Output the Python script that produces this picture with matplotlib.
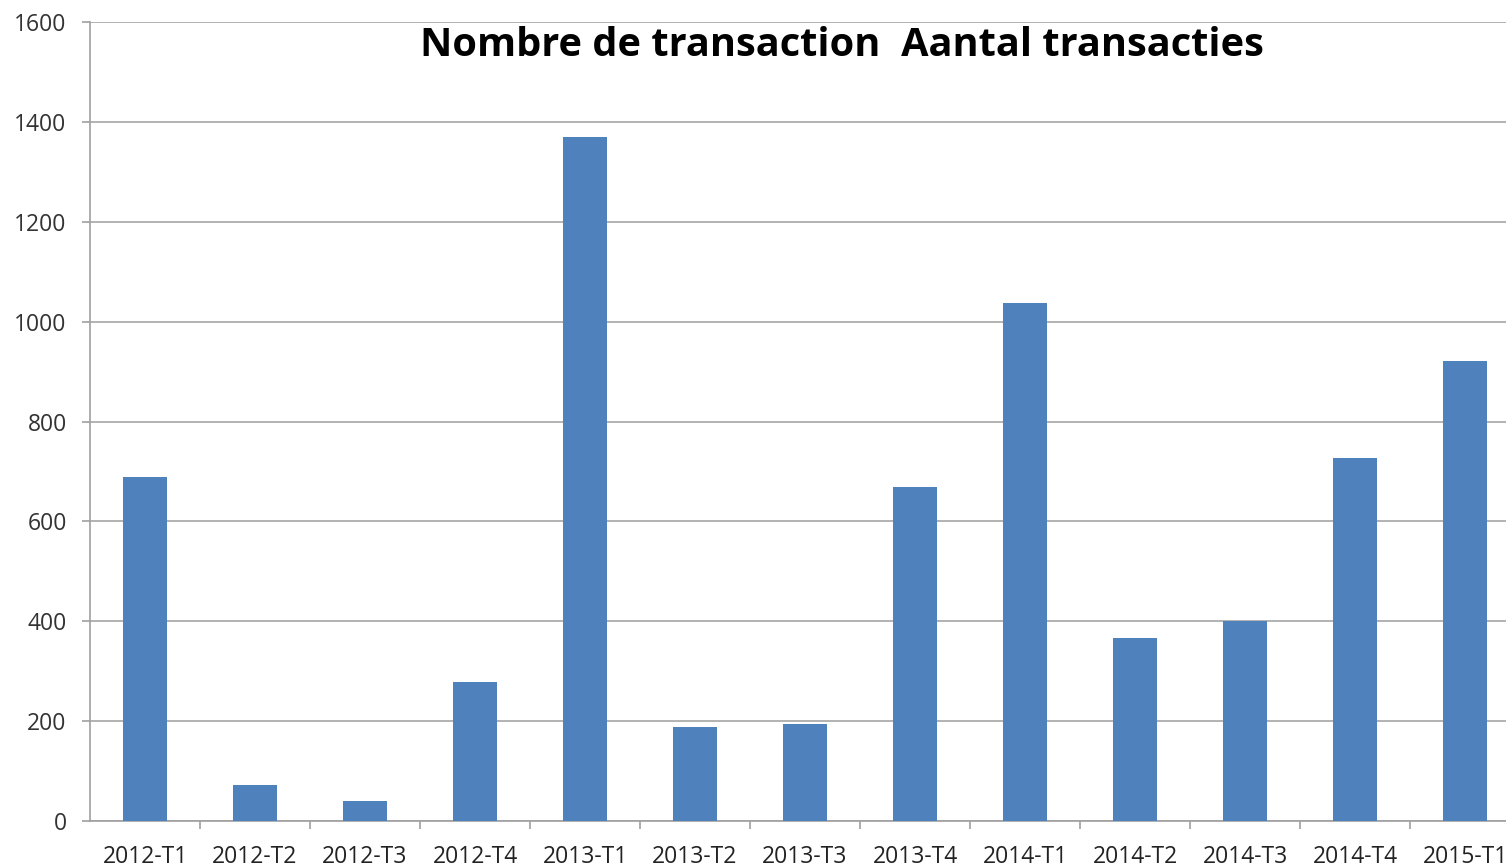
import matplotlib.pyplot as plt
import numpy as np

# quarters and number of transactions
quarters = ["2012-T1", "2012-T2", "2012-T3", "2012-T4",
            "2013-T1", "2013-T2", "2013-T3", "2013-T4",
            "2014-T1", "2014-T2", "2014-T3", "2014-T4",
            "2015-T1"]
transactions = [689, 72, 40, 278, 1370, 188, 194, 668, 1037, 366, 400, 727, 921]
yticks = [0, 200, 400, 600, 800, 1000, 1200, 1400, 1600]

plt.rcParams['font.family'] = ['Open Sans', 'DejaVu Sans']

W, H = 1506, 867
fig = plt.figure(figsize=(W / 100, H / 100), dpi=100)
# axes runs a bit past the right edge, as in the cropped reference
ax = fig.add_axes([90 / W, (H - 821) / H, (1520 - 90) / W, 799 / H])

x = np.arange(len(quarters))
ax.bar(x, transactions, width=0.4, color="#4F81BD", zorder=3)

ax.set_xlim(-0.5, len(quarters) - 0.5)
ax.set_ylim(0, 1600)
ax.set_yticks(yticks)
ax.set_yticklabels([str(v) for v in yticks], fontsize=16.5, color="#333333")
ax.set_xticks(x)
ax.set_xticklabels(quarters, fontsize=16.5, color="#222222")
ax.set_xticks(np.arange(len(quarters)) + 0.5, minor=True)

ax.grid(axis="y", color="#a6a6a6", linewidth=1.2, zorder=0)
for s in ["top", "right"]:
    ax.spines[s].set_visible(False)
for s in ["left", "bottom"]:
    ax.spines[s].set_color("#a0a0a0")
    ax.spines[s].set_linewidth(1.2)

ax.tick_params(axis="y", length=5.8, width=1.2, color="#a0a0a0", pad=11)
ax.tick_params(axis="x", which="major", length=0, pad=17.5)
ax.tick_params(axis="x", which="minor", length=5.8, width=1.2, color="#a0a0a0")

fig.text(842 / W, (H - 46) / H, "Nombre de transaction  Aantal transacties",
         ha="center", va="center", fontsize=28.6, fontweight="bold")

fig.savefig("out.png", dpi=100)
plt.close(fig)
